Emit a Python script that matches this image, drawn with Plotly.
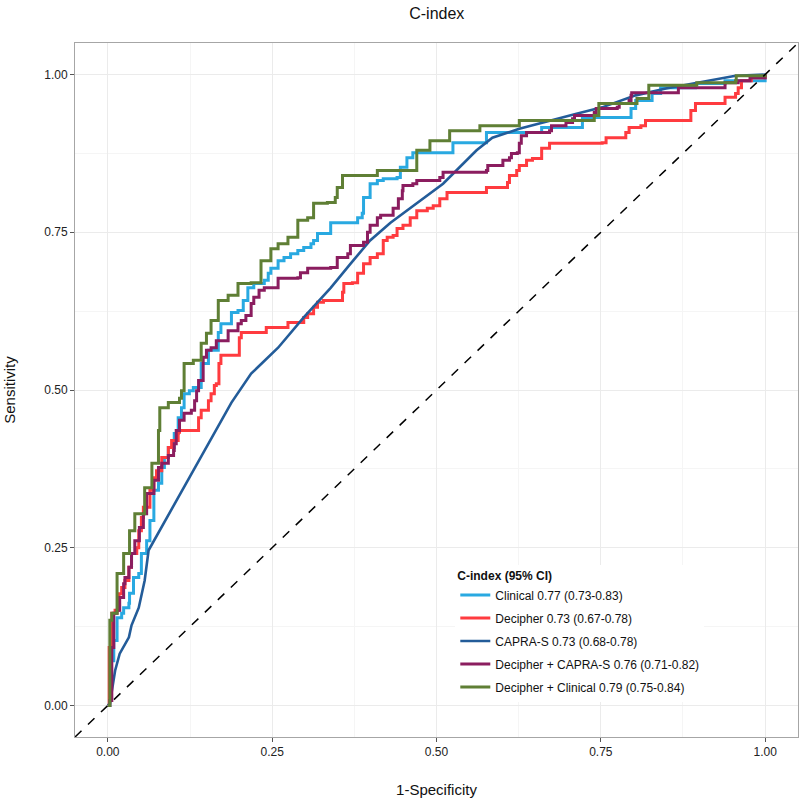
import plotly.graph_objects as go

# ---------------- data ----------------
series_names = [
    "Clinical 0.77 (0.73-0.83)",
    "Decipher 0.73 (0.67-0.78)",
    "CAPRA-S 0.73 (0.68-0.78)",
    "Decipher + CAPRA-S 0.76 (0.71-0.82)",
    "Decipher + Clinical 0.79 (0.75-0.84)",
]
series_colors = ["#29A9E1", "#FF3B3F", "#235C99", "#8B1D5F", "#5F7F35"]

clinical_fpr = [0, 0.003, 0.009, 0.014, 0.021, 0.024, 0.032, 0.033, 0.039, 0.047, 0.051, 0.059,
                0.064, 0.070, 0.077, 0.082, 0.086, 0.092, 0.101, 0.107, 0.112, 0.116, 0.124, 0.130,
                0.142, 0.153, 0.168, 0.172, 0.188, 0.198, 0.206, 0.213, 0.222, 0.238, 0.244, 0.248,
                0.259, 0.268, 0.278, 0.289, 0.298, 0.309, 0.313, 0.319, 0.339, 0.374, 0.380, 0.387,
                0.389, 0.399, 0.410, 0.419, 0.440, 0.445, 0.455, 0.464, 0.520, 0.525, 0.570, 0.576,
                0.657, 0.660, 0.717, 0.722, 0.793, 0.796, 0.803, 0.803, 0.828, 0.838, 0.841, 0.894,
                0.939, 0.995, 1.0]
clinical_tpr = [0, 0.071, 0.103, 0.139, 0.146, 0.155, 0.162, 0.178, 0.203, 0.209, 0.241, 0.261,
                0.293, 0.341, 0.352, 0.377, 0.393, 0.409, 0.431, 0.456, 0.472, 0.494, 0.499, 0.504,
                0.542, 0.563, 0.591, 0.605, 0.623, 0.626, 0.642, 0.662, 0.669, 0.674, 0.685, 0.693,
                0.705, 0.710, 0.716, 0.721, 0.726, 0.732, 0.737, 0.748, 0.765, 0.765, 0.773, 0.780,
                0.805, 0.827, 0.832, 0.835, 0.837, 0.853, 0.868, 0.876, 0.876, 0.892, 0.892, 0.908,
                0.908, 0.916, 0.916, 0.932, 0.932, 0.946, 0.951, 0.959, 0.970, 0.970, 0.979, 0.986,
                0.990, 0.990, 1.0]

decipher_fpr = [0, 0.002, 0.006, 0.011, 0.017, 0.021, 0.026, 0.032, 0.036, 0.044, 0.047, 0.051,
                0.054, 0.064, 0.070, 0.074, 0.082, 0.092, 0.097, 0.107, 0.109, 0.132, 0.138, 0.138,
                0.142, 0.153, 0.157, 0.162, 0.165, 0.169, 0.172, 0.195, 0.200, 0.203, 0.238, 0.241,
                0.268, 0.274, 0.289, 0.298, 0.304, 0.313, 0.319, 0.328, 0.354, 0.357, 0.359, 0.372,
                0.380, 0.389, 0.399, 0.410, 0.419, 0.425, 0.434, 0.440, 0.449, 0.460, 0.470, 0.486,
                0.495, 0.505, 0.516, 0.570, 0.576, 0.604, 0.608, 0.611, 0.622, 0.626, 0.637, 0.646,
                0.660, 0.672, 0.752, 0.758, 0.782, 0.788, 0.793, 0.811, 0.818, 0.884, 0.887, 0.894,
                0.933, 0.939, 0.955, 0.959, 0.964, 0.977, 0.979, 1.0]
decipher_tpr = [0, 0.092, 0.146, 0.151, 0.177, 0.187, 0.198, 0.219, 0.241, 0.250, 0.277, 0.298,
                0.314, 0.341, 0.361, 0.372, 0.393, 0.409, 0.420, 0.433, 0.436, 0.436, 0.441, 0.456,
                0.468, 0.483, 0.494, 0.507, 0.510, 0.542, 0.555, 0.555, 0.583, 0.591, 0.591, 0.599,
                0.599, 0.607, 0.607, 0.615, 0.621, 0.631, 0.639, 0.642, 0.642, 0.655, 0.669, 0.670,
                0.685, 0.700, 0.710, 0.716, 0.737, 0.742, 0.745, 0.756, 0.761, 0.773, 0.784, 0.788,
                0.792, 0.803, 0.813, 0.813, 0.821, 0.821, 0.829, 0.840, 0.848, 0.856, 0.864, 0.867,
                0.883, 0.891, 0.892, 0.900, 0.900, 0.908, 0.916, 0.919, 0.927, 0.927, 0.943, 0.954,
                0.954, 0.964, 0.970, 0.979, 0.990, 0.990, 0.995, 1.0]

capra_fpr = [0, 0.003, 0.011, 0.018, 0.032, 0.036, 0.047, 0.056, 0.062, 0.188, 0.218, 0.259,
             0.298, 0.339, 0.369, 0.399, 0.430, 0.470, 0.510, 0.561, 0.585, 0.626, 0.672, 0.713,
             0.752, 0.803, 0.849, 0.894, 0.955, 1.0]
capra_tpr = [0, 0.003, 0.055, 0.082, 0.108, 0.127, 0.155, 0.198, 0.246, 0.480, 0.526, 0.567,
             0.615, 0.662, 0.700, 0.737, 0.765, 0.796, 0.827, 0.880, 0.900, 0.914, 0.927, 0.938,
             0.948, 0.967, 0.978, 0.987, 0.998, 1.0]

dec_capra_fpr = [0, 0.003, 0.006, 0.009, 0.014, 0.018, 0.024, 0.026, 0.032, 0.036, 0.041, 0.048,
                 0.054, 0.059, 0.070, 0.077, 0.082, 0.092, 0.100, 0.101, 0.104, 0.109, 0.116, 0.127,
                 0.132, 0.135, 0.138, 0.145, 0.150, 0.157, 0.165, 0.183, 0.198, 0.203, 0.210, 0.218,
                 0.222, 0.230, 0.238, 0.253, 0.259, 0.289, 0.293, 0.304, 0.339, 0.349, 0.365, 0.369,
                 0.389, 0.395, 0.399, 0.410, 0.415, 0.434, 0.442, 0.448, 0.449, 0.464, 0.470, 0.495,
                 0.505, 0.510, 0.576, 0.578, 0.599, 0.601, 0.611, 0.614, 0.623, 0.626, 0.629, 0.637,
                 0.672, 0.675, 0.694, 0.697, 0.707, 0.710, 0.737, 0.740, 0.743, 0.775, 0.778, 0.793,
                 0.796, 0.797, 0.868, 0.868, 0.939, 0.939, 0.959, 0.977, 1.0]
dec_capra_tpr = [0, 0.008, 0.092, 0.146, 0.151, 0.171, 0.193, 0.203, 0.219, 0.241, 0.261, 0.282,
                 0.304, 0.336, 0.357, 0.377, 0.384, 0.396, 0.404, 0.415, 0.436, 0.452, 0.463, 0.468,
                 0.483, 0.499, 0.515, 0.552, 0.563, 0.567, 0.578, 0.594, 0.605, 0.610, 0.618, 0.637,
                 0.647, 0.658, 0.662, 0.662, 0.677, 0.678, 0.686, 0.693, 0.694, 0.710, 0.716, 0.729,
                 0.734, 0.750, 0.761, 0.773, 0.777, 0.788, 0.803, 0.816, 0.824, 0.827, 0.832, 0.832,
                 0.837, 0.845, 0.848, 0.856, 0.856, 0.864, 0.868, 0.875, 0.876, 0.891, 0.903, 0.908,
                 0.911, 0.919, 0.919, 0.924, 0.930, 0.935, 0.935, 0.940, 0.946, 0.948, 0.954, 0.959,
                 0.967, 0.971, 0.975, 0.979, 0.983, 0.987, 0.990, 0.995, 1.0]

dec_clin_fpr = [0, 0.003, 0.006, 0.014, 0.024, 0.033, 0.041, 0.056, 0.067, 0.077, 0.079, 0.092,
                0.109, 0.112, 0.116, 0.130, 0.142, 0.150, 0.157, 0.168, 0.183, 0.198, 0.218, 0.233,
                0.248, 0.259, 0.274, 0.289, 0.298, 0.304, 0.313, 0.334, 0.346, 0.349, 0.357, 0.410,
                0.410, 0.460, 0.470, 0.490, 0.520, 0.561, 0.566, 0.623, 0.626, 0.737, 0.740, 0.747,
                0.803, 0.805, 0.823, 0.823, 0.894, 0.896, 0.955, 0.956, 1.0]
dec_clin_tpr = [0, 0.135, 0.146, 0.209, 0.241, 0.277, 0.304, 0.345, 0.384, 0.436, 0.472, 0.480,
                0.487, 0.499, 0.542, 0.547, 0.574, 0.590, 0.610, 0.642, 0.650, 0.669, 0.670, 0.705,
                0.724, 0.732, 0.742, 0.769, 0.769, 0.773, 0.796, 0.797, 0.805, 0.821, 0.840, 0.840,
                0.848, 0.848, 0.880, 0.895, 0.911, 0.911, 0.919, 0.919, 0.927, 0.927, 0.935, 0.954,
                0.954, 0.962, 0.964, 0.983, 0.983, 0.987, 0.990, 0.998, 1.0]

ref_line = [-0.05, 1.05]
tick_vals = [0, 0.25, 0.5, 0.75, 1.0]
tick_text = ["0.00", "0.25", "0.50", "0.75", "1.00"]

# ---------------- figure ----------------
series_x = [clinical_fpr, decipher_fpr, capra_fpr, dec_capra_fpr, dec_clin_fpr]
series_y = [clinical_tpr, decipher_tpr, capra_tpr, dec_capra_tpr, dec_clin_tpr]
series_shape = ["hv", "hv", "linear", "hv", "hv"]
series_width = [3, 3, 2.6, 3, 3]

FONT = "Liberation Sans, Arial, sans-serif"

fig = go.Figure()
for i, name in enumerate(series_names):
    fig.add_trace(go.Scatter(
        x=series_x[i], y=series_y[i], mode="lines", name=name,
        legendgroup=f"g{i}",
        line=dict(color=series_colors[i], width=series_width[i], shape=series_shape[i]),
    ))

fig.add_trace(go.Scatter(
    x=ref_line, y=ref_line, mode="lines", showlegend=False,
    line=dict(color="black", width=1.5, dash="dash"),
))

axis_common = dict(
    range=[-0.05, 1.05], tickvals=tick_vals, ticktext=tick_text,
    automargin=False,
    showgrid=True, gridcolor="#EBEBEB", gridwidth=1,
    minor=dict(showgrid=True, gridcolor="#F5F5F5", gridwidth=0.6, dtick=0.125, tick0=0.125),
    zeroline=False, showline=True, linecolor="#A6A6A6", linewidth=1, mirror=True,
    ticks="outside", ticklen=4, tickcolor="#555555", tickwidth=1,
    tickfont=dict(family=FONT, size=12, color="#222222"),
)

fig.update_xaxes(**axis_common,
                 title=dict(text="1-Specificity", standoff=26,
                            font=dict(family=FONT, size=15, color="#111111")))
fig.update_yaxes(**axis_common,
                 title=dict(text="Sensitivity", standoff=24,
                            font=dict(family=FONT, size=15, color="#111111")))

fig.update_layout(
    width=800, height=798,
    margin=dict(l=75, r=2, t=43, b=61, autoexpand=False),
    plot_bgcolor="white", paper_bgcolor="white",
    title=dict(text="C-index", x=0.546, xanchor="center", y=1 - 13 / 798, yanchor="middle",
               font=dict(family=FONT, size=16, color="#111111")),
    legend=dict(
        title=dict(text="<b>C-index (95% CI)</b>",
                   font=dict(family=FONT, size=12, color="#111111")),
        x=0.526, y=0.248, xanchor="left", yanchor="top",
        bgcolor="white", borderwidth=0,
        tracegroupgap=4,
        font=dict(family=FONT, size=12, color="#111111"),
    ),
    showlegend=True,
)

fig.write_html(
    "out.html",
    config={"displayModeBar": False},
    post_script="document.body.style.margin='0';document.body.style.overflow='hidden';",
)
